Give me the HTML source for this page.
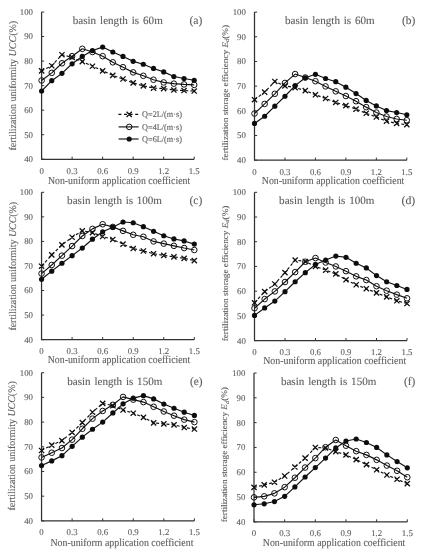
<!DOCTYPE html>
<html><head><meta charset="utf-8"><style>
html,body{margin:0;padding:0;background:#fff;}
svg{display:block;}
text{stroke:#5e5e5e;stroke-width:0.12px;}
</style></head><body>
<svg width="424" height="550" viewBox="0 0 424 550" font-family='"Liberation Serif", serif' stroke-linejoin='round' text-rendering='geometricPrecision'>
<defs><filter id="bl" x="0" y="0" width="1" height="1"><feGaussianBlur stdDeviation="0.3"/></filter></defs>
<rect width="424" height="550" fill="#fff"/>
<g filter="url(#bl)"><rect width="424" height="550" fill="#fff"/>
<path d="M41.6 12V159.25H194.2" fill="none" stroke="#333333" stroke-width="1.25"/>
<path d="M41.6 159.25h2.6M41.6 134.71h2.6M41.6 110.17h2.6M41.6 85.62h2.6M41.6 61.08h2.6M41.6 36.54h2.6M41.6 12h2.6M41.6 159.25v-2.6M72.12 159.25v-2.6M102.64 159.25v-2.6M133.16 159.25v-2.6M163.68 159.25v-2.6M194.2 159.25v-2.6" stroke="#333333" stroke-width="1"/>
<g font-size="8.8" fill="#5e5e5e"><text x="33" y="162.15" text-anchor="end">40</text><text x="33" y="137.61" text-anchor="end">50</text><text x="33" y="113.07" text-anchor="end">60</text><text x="33" y="88.53" text-anchor="end">70</text><text x="33" y="63.98" text-anchor="end">80</text><text x="33" y="39.44" text-anchor="end">90</text><text x="33" y="14.9" text-anchor="end">100</text><text x="41.6" y="173.75" text-anchor="middle">0</text><text x="72.12" y="173.75" text-anchor="middle">0.3</text><text x="102.64" y="173.75" text-anchor="middle">0.6</text><text x="133.16" y="173.75" text-anchor="middle">0.9</text><text x="163.68" y="173.75" text-anchor="middle">1.2</text><text x="194.2" y="173.75" text-anchor="middle">1.5</text></g>
<text x="72.7" y="24" font-size="11.1" fill="#5e5e5e" word-spacing="1.17">basin length is 60m</text>
<text x="189.4" y="24" font-size="11.5" fill="#5e5e5e" textLength="12.9" lengthAdjust="spacingAndGlyphs">(a)</text>
<text x="47.9" y="183.9" font-size="10.8" fill="#5e5e5e" textLength="142.3" lengthAdjust="spacingAndGlyphs">Non-uniform application coefficient</text>
<text transform="translate(15.8,150.6) rotate(-90)" x="0" y="0" font-size="10.2" fill="#5e5e5e" textLength="129.7" lengthAdjust="spacingAndGlyphs">fertilization uniformity <tspan font-style="italic">UCC</tspan>(%)</text>
<path d="M41.6 70.9L51.77 65.75L61.95 54.7L72.12 57.4L82.29 61.57L92.47 66.24L102.64 70.9L112.81 75.32L122.99 79L133.16 82.93L143.33 85.87L153.51 88.08L163.68 88.57L173.85 90.04L184.03 90.53L194.2 91.02" fill="none" stroke="#111" stroke-width="1.15" stroke-dasharray="3 2.2"/>
<path d="M41.6 80.47L51.77 72.86L61.95 63.29L72.12 56.17L82.29 48.81L92.47 52L102.64 56.17L112.81 62.31L122.99 67.22L133.16 72.37L143.33 75.81L153.51 79.73L163.68 82.43L173.85 83.66L184.03 84.4L194.2 84.89" fill="none" stroke="#111" stroke-width="1.15"/>
<path d="M41.6 91.02L51.77 80.72L61.95 73.35L72.12 63.78L82.29 56.42L92.47 50.53L102.64 47.09L112.81 52L122.99 56.42L133.16 61.33L143.33 64.27L153.51 68.45L163.68 71.88L173.85 76.54L184.03 78.51L194.2 80.23" fill="none" stroke="#111" stroke-width="1.15"/>
<g stroke="#111" stroke-width="1.3" fill="none"><path d="M39 68.3L44.2 73.5M39 73.5L44.2 68.3M41.6 69.6V72.2" /><path d="M49.17 63.15L54.37 68.35M49.17 68.35L54.37 63.15M51.77 64.45V67.05" /><path d="M59.35 52.1L64.55 57.3M59.35 57.3L64.55 52.1M61.95 53.4V56" /><path d="M69.52 54.8L74.72 60M69.52 60L74.72 54.8M72.12 56.1V58.7" /><path d="M79.69 58.97L84.89 64.17M79.69 64.17L84.89 58.97M82.29 60.27V62.87" /><path d="M89.87 63.64L95.07 68.84M89.87 68.84L95.07 63.64M92.47 64.94V67.54" /><path d="M100.04 68.3L105.24 73.5M100.04 73.5L105.24 68.3M102.64 69.6V72.2" /><path d="M110.21 72.72L115.41 77.92M110.21 77.92L115.41 72.72M112.81 74.02V76.62" /><path d="M120.39 76.4L125.59 81.6M120.39 81.6L125.59 76.4M122.99 77.7V80.3" /><path d="M130.56 80.33L135.76 85.53M130.56 85.53L135.76 80.33M133.16 81.63V84.23" /><path d="M140.73 83.27L145.93 88.47M140.73 88.47L145.93 83.27M143.33 84.57V87.17" /><path d="M150.91 85.48L156.11 90.68M150.91 90.68L156.11 85.48M153.51 86.78V89.38" /><path d="M161.08 85.97L166.28 91.17M161.08 91.17L166.28 85.97M163.68 87.27V89.87" /><path d="M171.25 87.44L176.45 92.64M171.25 92.64L176.45 87.44M173.85 88.74V91.34" /><path d="M181.43 87.93L186.63 93.13M181.43 93.13L186.63 87.93M184.03 89.23V91.83" /><path d="M191.6 88.42L196.8 93.62M191.6 93.62L196.8 88.42M194.2 89.72V92.32" /></g>
<g stroke="#111" stroke-width="1" fill="none"><circle cx="41.6" cy="80.47" r="2.8"/><circle cx="51.77" cy="72.86" r="2.8"/><circle cx="61.95" cy="63.29" r="2.8"/><circle cx="72.12" cy="56.17" r="2.8"/><circle cx="82.29" cy="48.81" r="2.8"/><circle cx="92.47" cy="52" r="2.8"/><circle cx="102.64" cy="56.17" r="2.8"/><circle cx="112.81" cy="62.31" r="2.8"/><circle cx="122.99" cy="67.22" r="2.8"/><circle cx="133.16" cy="72.37" r="2.8"/><circle cx="143.33" cy="75.81" r="2.8"/><circle cx="153.51" cy="79.73" r="2.8"/><circle cx="163.68" cy="82.43" r="2.8"/><circle cx="173.85" cy="83.66" r="2.8"/><circle cx="184.03" cy="84.4" r="2.8"/><circle cx="194.2" cy="84.89" r="2.8"/></g>
<g fill="#111"><circle cx="41.6" cy="91.02" r="2.6"/><circle cx="51.77" cy="80.72" r="2.6"/><circle cx="61.95" cy="73.35" r="2.6"/><circle cx="72.12" cy="63.78" r="2.6"/><circle cx="82.29" cy="56.42" r="2.6"/><circle cx="92.47" cy="50.53" r="2.6"/><circle cx="102.64" cy="47.09" r="2.6"/><circle cx="112.81" cy="52" r="2.6"/><circle cx="122.99" cy="56.42" r="2.6"/><circle cx="133.16" cy="61.33" r="2.6"/><circle cx="143.33" cy="64.27" r="2.6"/><circle cx="153.51" cy="68.45" r="2.6"/><circle cx="163.68" cy="71.88" r="2.6"/><circle cx="173.85" cy="76.54" r="2.6"/><circle cx="184.03" cy="78.51" r="2.6"/><circle cx="194.2" cy="80.23" r="2.6"/></g>
<path d="M254.5 12.1V160.2H406.8" fill="none" stroke="#333333" stroke-width="1.25"/>
<path d="M254.5 160.2h2.6M254.5 135.52h2.6M254.5 110.83h2.6M254.5 86.15h2.6M254.5 61.47h2.6M254.5 36.78h2.6M254.5 12.1h2.6M254.5 160.2v-2.6M284.96 160.2v-2.6M315.42 160.2v-2.6M345.88 160.2v-2.6M376.34 160.2v-2.6M406.8 160.2v-2.6" stroke="#333333" stroke-width="1"/>
<g font-size="8.8" fill="#5e5e5e"><text x="245.9" y="163.1" text-anchor="end">40</text><text x="245.9" y="138.42" text-anchor="end">50</text><text x="245.9" y="113.73" text-anchor="end">60</text><text x="245.9" y="89.05" text-anchor="end">70</text><text x="245.9" y="64.37" text-anchor="end">80</text><text x="245.9" y="39.68" text-anchor="end">90</text><text x="245.9" y="15" text-anchor="end">100</text><text x="254.5" y="174.7" text-anchor="middle">0</text><text x="284.96" y="174.7" text-anchor="middle">0.3</text><text x="315.42" y="174.7" text-anchor="middle">0.6</text><text x="345.88" y="174.7" text-anchor="middle">0.9</text><text x="376.34" y="174.7" text-anchor="middle">1.2</text><text x="406.8" y="174.7" text-anchor="middle">1.5</text></g>
<text x="285" y="23.6" font-size="11.1" fill="#5e5e5e" word-spacing="1.04">basin length is 60m</text>
<text x="402" y="23.6" font-size="11.5" fill="#5e5e5e" textLength="13.4" lengthAdjust="spacingAndGlyphs">(b)</text>
<text x="261.8" y="183.9" font-size="10.8" fill="#5e5e5e" textLength="142.5" lengthAdjust="spacingAndGlyphs">Non-uniform application coefficient</text>
<text transform="translate(227.8,160.5) rotate(-90)" x="0" y="0" font-size="8.5" fill="#5e5e5e" textLength="135.6" lengthAdjust="spacingAndGlyphs">fertilization storage efficiency <tspan font-style="italic">E</tspan><tspan font-style="italic" font-size="6" dy="1.4">d</tspan><tspan dy="-1.4">(%)</tspan></text>
<path d="M254.5 99.73L264.65 92.07L274.81 81.46L284.96 85.9L295.11 87.63L305.27 90.59L315.42 94.79L325.57 98.49L335.73 102.44L345.88 105.65L356.03 109.11L366.19 113.3L376.34 117L386.49 121.2L396.65 123.42L406.8 124.66" fill="none" stroke="#111" stroke-width="1.15" stroke-dasharray="3 2.2"/>
<path d="M254.5 113.55L264.65 103.92L274.81 93.8L284.96 82.94L295.11 74.06L305.27 77.51L315.42 81.21L325.57 86.4L335.73 91.33L345.88 96.02L356.03 101.21L366.19 107.13L376.34 112.56L386.49 116.51L396.65 118.98L406.8 120.21" fill="none" stroke="#111" stroke-width="1.15"/>
<path d="M254.5 123.42L264.65 116.26L274.81 106.14L284.96 96.27L295.11 85.66L305.27 77.76L315.42 74.3L325.57 78.5L335.73 81.71L345.88 87.14L356.03 93.55L366.19 100.47L376.34 105.9L386.49 110.59L396.65 112.56L406.8 114.78" fill="none" stroke="#111" stroke-width="1.15"/>
<g stroke="#111" stroke-width="1.3" fill="none"><path d="M251.9 97.13L257.1 102.33M251.9 102.33L257.1 97.13M254.5 98.43V101.03" /><path d="M262.05 89.47L267.25 94.67M262.05 94.67L267.25 89.47M264.65 90.77V93.37" /><path d="M272.21 78.86L277.41 84.06M272.21 84.06L277.41 78.86M274.81 80.16V82.76" /><path d="M282.36 83.3L287.56 88.5M282.36 88.5L287.56 83.3M284.96 84.6V87.2" /><path d="M292.51 85.03L297.71 90.23M292.51 90.23L297.71 85.03M295.11 86.33V88.93" /><path d="M302.67 87.99L307.87 93.19M302.67 93.19L307.87 87.99M305.27 89.29V91.89" /><path d="M312.82 92.19L318.02 97.39M312.82 97.39L318.02 92.19M315.42 93.49V96.09" /><path d="M322.97 95.89L328.17 101.09M322.97 101.09L328.17 95.89M325.57 97.19V99.79" /><path d="M333.13 99.84L338.33 105.04M333.13 105.04L338.33 99.84M335.73 101.14V103.74" /><path d="M343.28 103.05L348.48 108.25M343.28 108.25L348.48 103.05M345.88 104.35V106.95" /><path d="M353.43 106.51L358.63 111.71M353.43 111.71L358.63 106.51M356.03 107.81V110.41" /><path d="M363.59 110.7L368.79 115.9M363.59 115.9L368.79 110.7M366.19 112V114.6" /><path d="M373.74 114.4L378.94 119.6M373.74 119.6L378.94 114.4M376.34 115.7V118.3" /><path d="M383.89 118.6L389.09 123.8M383.89 123.8L389.09 118.6M386.49 119.9V122.5" /><path d="M394.05 120.82L399.25 126.02M394.05 126.02L399.25 120.82M396.65 122.12V124.72" /><path d="M404.2 122.06L409.4 127.26M404.2 127.26L409.4 122.06M406.8 123.36V125.96" /></g>
<g stroke="#111" stroke-width="1" fill="none"><circle cx="254.5" cy="113.55" r="2.8"/><circle cx="264.65" cy="103.92" r="2.8"/><circle cx="274.81" cy="93.8" r="2.8"/><circle cx="284.96" cy="82.94" r="2.8"/><circle cx="295.11" cy="74.06" r="2.8"/><circle cx="305.27" cy="77.51" r="2.8"/><circle cx="315.42" cy="81.21" r="2.8"/><circle cx="325.57" cy="86.4" r="2.8"/><circle cx="335.73" cy="91.33" r="2.8"/><circle cx="345.88" cy="96.02" r="2.8"/><circle cx="356.03" cy="101.21" r="2.8"/><circle cx="366.19" cy="107.13" r="2.8"/><circle cx="376.34" cy="112.56" r="2.8"/><circle cx="386.49" cy="116.51" r="2.8"/><circle cx="396.65" cy="118.98" r="2.8"/><circle cx="406.8" cy="120.21" r="2.8"/></g>
<g fill="#111"><circle cx="254.5" cy="123.42" r="2.6"/><circle cx="264.65" cy="116.26" r="2.6"/><circle cx="274.81" cy="106.14" r="2.6"/><circle cx="284.96" cy="96.27" r="2.6"/><circle cx="295.11" cy="85.66" r="2.6"/><circle cx="305.27" cy="77.76" r="2.6"/><circle cx="315.42" cy="74.3" r="2.6"/><circle cx="325.57" cy="78.5" r="2.6"/><circle cx="335.73" cy="81.71" r="2.6"/><circle cx="345.88" cy="87.14" r="2.6"/><circle cx="356.03" cy="93.55" r="2.6"/><circle cx="366.19" cy="100.47" r="2.6"/><circle cx="376.34" cy="105.9" r="2.6"/><circle cx="386.49" cy="110.59" r="2.6"/><circle cx="396.65" cy="112.56" r="2.6"/><circle cx="406.8" cy="114.78" r="2.6"/></g>
<path d="M41.55 192.3V339.65H194.3" fill="none" stroke="#333333" stroke-width="1.25"/>
<path d="M41.55 339.65h2.6M41.55 315.09h2.6M41.55 290.53h2.6M41.55 265.98h2.6M41.55 241.42h2.6M41.55 216.86h2.6M41.55 192.3h2.6M41.55 339.65v-2.6M72.1 339.65v-2.6M102.65 339.65v-2.6M133.2 339.65v-2.6M163.75 339.65v-2.6M194.3 339.65v-2.6" stroke="#333333" stroke-width="1"/>
<g font-size="8.8" fill="#5e5e5e"><text x="32.95" y="342.55" text-anchor="end">40</text><text x="32.95" y="317.99" text-anchor="end">50</text><text x="32.95" y="293.43" text-anchor="end">60</text><text x="32.95" y="268.88" text-anchor="end">70</text><text x="32.95" y="244.32" text-anchor="end">80</text><text x="32.95" y="219.76" text-anchor="end">90</text><text x="32.95" y="195.2" text-anchor="end">100</text><text x="41.55" y="354.15" text-anchor="middle">0</text><text x="72.1" y="354.15" text-anchor="middle">0.3</text><text x="102.65" y="354.15" text-anchor="middle">0.6</text><text x="133.2" y="354.15" text-anchor="middle">0.9</text><text x="163.75" y="354.15" text-anchor="middle">1.2</text><text x="194.3" y="354.15" text-anchor="middle">1.5</text></g>
<text x="67.1" y="203.9" font-size="11.1" fill="#5e5e5e" word-spacing="0.92">basin length is 100m</text>
<text x="189.4" y="203.9" font-size="11.5" fill="#5e5e5e" textLength="12.9" lengthAdjust="spacingAndGlyphs">(c)</text>
<text x="47.7" y="363.4" font-size="10.8" fill="#5e5e5e" textLength="142.6" lengthAdjust="spacingAndGlyphs">Non-uniform application coefficient</text>
<text transform="translate(15.7,330.6) rotate(-90)" x="0" y="0" font-size="10.2" fill="#5e5e5e" textLength="128.7" lengthAdjust="spacingAndGlyphs">fertilization uniformity <tspan font-style="italic">UCC</tspan>(%)</text>
<path d="M41.55 266.22L51.73 254.92L61.92 244.85L72.1 237.24L82.28 230.86L92.47 232.58L102.65 236.5L112.83 239.45L123.02 244.12L133.2 248.54L143.38 250.99L153.57 253.7L163.75 255.41L173.93 256.89L184.12 258.36L194.3 260.57" fill="none" stroke="#111" stroke-width="1.15" stroke-dasharray="3 2.2"/>
<path d="M41.55 273.59L51.73 264.99L61.92 255.66L72.1 246.08L82.28 236.01L92.47 228.89L102.65 224.23L112.83 226.93L123.02 230.86L133.2 234.79L143.38 236.75L153.57 241.42L163.75 243.63L173.93 245.84L184.12 248.05L194.3 250.01" fill="none" stroke="#111" stroke-width="1.15"/>
<path d="M41.55 279.24L51.73 271.13L61.92 263.27L72.1 255.66L82.28 248.05L92.47 239.21L102.65 231.84L112.83 227.17L123.02 222.02L133.2 222.75L143.38 226.68L153.57 231.35L163.75 235.77L173.93 238.96L184.12 240.93L194.3 244.12" fill="none" stroke="#111" stroke-width="1.15"/>
<g stroke="#111" stroke-width="1.3" fill="none"><path d="M38.95 263.62L44.15 268.82M38.95 268.82L44.15 263.62M41.55 264.92V267.52" /><path d="M49.13 252.32L54.33 257.52M49.13 257.52L54.33 252.32M51.73 253.62V256.22" /><path d="M59.32 242.25L64.52 247.45M59.32 247.45L64.52 242.25M61.92 243.55V246.15" /><path d="M69.5 234.64L74.7 239.84M69.5 239.84L74.7 234.64M72.1 235.94V238.54" /><path d="M79.68 228.26L84.88 233.46M79.68 233.46L84.88 228.26M82.28 229.56V232.16" /><path d="M89.87 229.98L95.07 235.18M89.87 235.18L95.07 229.98M92.47 231.28V233.88" /><path d="M100.05 233.91L105.25 239.1M100.05 239.1L105.25 233.91M102.65 235.2V237.81" /><path d="M110.23 236.85L115.43 242.05M110.23 242.05L115.43 236.85M112.83 238.15V240.75" /><path d="M120.42 241.52L125.62 246.72M120.42 246.72L125.62 241.52M123.02 242.82V245.42" /><path d="M130.6 245.94L135.8 251.14M130.6 251.14L135.8 245.94M133.2 247.24V249.84" /><path d="M140.78 248.39L145.98 253.59M140.78 253.59L145.98 248.39M143.38 249.69V252.29" /><path d="M150.97 251.1L156.17 256.3M150.97 256.3L156.17 251.1M153.57 252.4V255" /><path d="M161.15 252.81L166.35 258.01M161.15 258.01L166.35 252.81M163.75 254.11V256.71" /><path d="M171.33 254.29L176.53 259.49M171.33 259.49L176.53 254.29M173.93 255.59V258.19" /><path d="M181.52 255.76L186.72 260.96M181.52 260.96L186.72 255.76M184.12 257.06V259.66" /><path d="M191.7 257.97L196.9 263.17M191.7 263.17L196.9 257.97M194.3 259.27V261.87" /></g>
<g stroke="#111" stroke-width="1" fill="none"><circle cx="41.55" cy="273.59" r="2.8"/><circle cx="51.73" cy="264.99" r="2.8"/><circle cx="61.92" cy="255.66" r="2.8"/><circle cx="72.1" cy="246.08" r="2.8"/><circle cx="82.28" cy="236.01" r="2.8"/><circle cx="92.47" cy="228.89" r="2.8"/><circle cx="102.65" cy="224.23" r="2.8"/><circle cx="112.83" cy="226.93" r="2.8"/><circle cx="123.02" cy="230.86" r="2.8"/><circle cx="133.2" cy="234.79" r="2.8"/><circle cx="143.38" cy="236.75" r="2.8"/><circle cx="153.57" cy="241.42" r="2.8"/><circle cx="163.75" cy="243.63" r="2.8"/><circle cx="173.93" cy="245.84" r="2.8"/><circle cx="184.12" cy="248.05" r="2.8"/><circle cx="194.3" cy="250.01" r="2.8"/></g>
<g fill="#111"><circle cx="41.55" cy="279.24" r="2.6"/><circle cx="51.73" cy="271.13" r="2.6"/><circle cx="61.92" cy="263.27" r="2.6"/><circle cx="72.1" cy="255.66" r="2.6"/><circle cx="82.28" cy="248.05" r="2.6"/><circle cx="92.47" cy="239.21" r="2.6"/><circle cx="102.65" cy="231.84" r="2.6"/><circle cx="112.83" cy="227.17" r="2.6"/><circle cx="123.02" cy="222.02" r="2.6"/><circle cx="133.2" cy="222.75" r="2.6"/><circle cx="143.38" cy="226.68" r="2.6"/><circle cx="153.57" cy="231.35" r="2.6"/><circle cx="163.75" cy="235.77" r="2.6"/><circle cx="173.93" cy="238.96" r="2.6"/><circle cx="184.12" cy="240.93" r="2.6"/><circle cx="194.3" cy="244.12" r="2.6"/></g>
<path d="M254.5 192.3V340.6H407" fill="none" stroke="#333333" stroke-width="1.25"/>
<path d="M254.5 340.6h2.6M254.5 315.88h2.6M254.5 291.17h2.6M254.5 266.45h2.6M254.5 241.73h2.6M254.5 217.02h2.6M254.5 192.3h2.6M254.5 340.6v-2.6M285 340.6v-2.6M315.5 340.6v-2.6M346 340.6v-2.6M376.5 340.6v-2.6M407 340.6v-2.6" stroke="#333333" stroke-width="1"/>
<g font-size="8.8" fill="#5e5e5e"><text x="245.9" y="343.5" text-anchor="end">40</text><text x="245.9" y="318.78" text-anchor="end">50</text><text x="245.9" y="294.07" text-anchor="end">60</text><text x="245.9" y="269.35" text-anchor="end">70</text><text x="245.9" y="244.63" text-anchor="end">80</text><text x="245.9" y="219.92" text-anchor="end">90</text><text x="245.9" y="195.2" text-anchor="end">100</text><text x="254.5" y="355.1" text-anchor="middle">0</text><text x="285" y="355.1" text-anchor="middle">0.3</text><text x="315.5" y="355.1" text-anchor="middle">0.6</text><text x="346" y="355.1" text-anchor="middle">0.9</text><text x="376.5" y="355.1" text-anchor="middle">1.2</text><text x="407" y="355.1" text-anchor="middle">1.5</text></g>
<text x="279.1" y="203.8" font-size="11.1" fill="#5e5e5e" word-spacing="1.09">basin length is 100m</text>
<text x="401.5" y="203.8" font-size="11.5" fill="#5e5e5e" textLength="13.8" lengthAdjust="spacingAndGlyphs">(d)</text>
<text x="263.2" y="363.6" font-size="10.8" fill="#5e5e5e" textLength="143" lengthAdjust="spacingAndGlyphs">Non-uniform application coefficient</text>
<text transform="translate(227.6,341.3) rotate(-90)" x="0" y="0" font-size="8.5" fill="#5e5e5e" textLength="135.7" lengthAdjust="spacingAndGlyphs">fertilization storage efficiency <tspan font-style="italic">E</tspan><tspan font-style="italic" font-size="6" dy="1.4">d</tspan><tspan dy="-1.4">(%)</tspan></text>
<path d="M254.5 302.78L264.67 291.66L274.83 284L285 272.63L295.17 260.02L305.33 261.51L315.5 266.45L325.67 270.16L335.83 273.87L346 279.8L356.17 284.74L366.33 288.7L376.5 292.9L386.67 296.85L396.83 300.81L407 303.53" fill="none" stroke="#111" stroke-width="1.15" stroke-dasharray="3 2.2"/>
<path d="M254.5 308.22L264.67 299.08L274.83 291.41L285 282.02L295.17 272.13L305.33 261.75L315.5 258.05L325.67 262.5L335.83 266.45L346 271.15L356.17 276.34L366.33 280.04L376.5 286.22L386.67 290.67L396.83 294.63L407 298.33" fill="none" stroke="#111" stroke-width="1.15"/>
<path d="M254.5 315.39L264.67 307.97L274.83 301.05L285 291.66L295.17 281.77L305.33 272.63L315.5 264.47L325.67 260.02L335.83 256.07L346 257.3L356.17 263.24L366.33 267.93L376.5 275.6L386.67 281.77L396.83 285.48L407 289.44" fill="none" stroke="#111" stroke-width="1.15"/>
<g stroke="#111" stroke-width="1.3" fill="none"><path d="M251.9 300.18L257.1 305.38M251.9 305.38L257.1 300.18M254.5 301.48V304.08" /><path d="M262.07 289.06L267.27 294.26M262.07 294.26L267.27 289.06M264.67 290.36V292.96" /><path d="M272.23 281.4L277.43 286.6M272.23 286.6L277.43 281.4M274.83 282.7V285.3" /><path d="M282.4 270.03L287.6 275.23M282.4 275.23L287.6 270.03M285 271.33V273.93" /><path d="M292.57 257.42L297.77 262.62M292.57 262.62L297.77 257.42M295.17 258.72V261.32" /><path d="M302.73 258.91L307.93 264.11M302.73 264.11L307.93 258.91M305.33 260.21V262.81" /><path d="M312.9 263.85L318.1 269.05M312.9 269.05L318.1 263.85M315.5 265.15V267.75" /><path d="M323.07 267.56L328.27 272.76M323.07 272.76L328.27 267.56M325.67 268.86V271.46" /><path d="M333.23 271.26L338.43 276.47M333.23 276.47L338.43 271.26M335.83 272.56V275.17" /><path d="M343.4 277.2L348.6 282.4M343.4 282.4L348.6 277.2M346 278.5V281.1" /><path d="M353.57 282.14L358.77 287.34M353.57 287.34L358.77 282.14M356.17 283.44V286.04" /><path d="M363.73 286.1L368.93 291.3M363.73 291.3L368.93 286.1M366.33 287.4V290" /><path d="M373.9 290.3L379.1 295.5M373.9 295.5L379.1 290.3M376.5 291.6V294.2" /><path d="M384.07 294.25L389.27 299.45M384.07 299.45L389.27 294.25M386.67 295.55V298.15" /><path d="M394.23 298.21L399.43 303.41M394.23 303.41L399.43 298.21M396.83 299.51V302.11" /><path d="M404.4 300.93L409.6 306.13M404.4 306.13L409.6 300.93M407 302.23V304.83" /></g>
<g stroke="#111" stroke-width="1" fill="none"><circle cx="254.5" cy="308.22" r="2.8"/><circle cx="264.67" cy="299.08" r="2.8"/><circle cx="274.83" cy="291.41" r="2.8"/><circle cx="285" cy="282.02" r="2.8"/><circle cx="295.17" cy="272.13" r="2.8"/><circle cx="305.33" cy="261.75" r="2.8"/><circle cx="315.5" cy="258.05" r="2.8"/><circle cx="325.67" cy="262.5" r="2.8"/><circle cx="335.83" cy="266.45" r="2.8"/><circle cx="346" cy="271.15" r="2.8"/><circle cx="356.17" cy="276.34" r="2.8"/><circle cx="366.33" cy="280.04" r="2.8"/><circle cx="376.5" cy="286.22" r="2.8"/><circle cx="386.67" cy="290.67" r="2.8"/><circle cx="396.83" cy="294.63" r="2.8"/><circle cx="407" cy="298.33" r="2.8"/></g>
<g fill="#111"><circle cx="254.5" cy="315.39" r="2.6"/><circle cx="264.67" cy="307.97" r="2.6"/><circle cx="274.83" cy="301.05" r="2.6"/><circle cx="285" cy="291.66" r="2.6"/><circle cx="295.17" cy="281.77" r="2.6"/><circle cx="305.33" cy="272.63" r="2.6"/><circle cx="315.5" cy="264.47" r="2.6"/><circle cx="325.67" cy="260.02" r="2.6"/><circle cx="335.83" cy="256.07" r="2.6"/><circle cx="346" cy="257.3" r="2.6"/><circle cx="356.17" cy="263.24" r="2.6"/><circle cx="366.33" cy="267.93" r="2.6"/><circle cx="376.5" cy="275.6" r="2.6"/><circle cx="386.67" cy="281.77" r="2.6"/><circle cx="396.83" cy="285.48" r="2.6"/><circle cx="407" cy="289.44" r="2.6"/></g>
<path d="M41.55 372.7V520.9H194.4" fill="none" stroke="#333333" stroke-width="1.25"/>
<path d="M41.55 520.9h2.6M41.55 496.2h2.6M41.55 471.5h2.6M41.55 446.8h2.6M41.55 422.1h2.6M41.55 397.4h2.6M41.55 372.7h2.6M41.55 520.9v-2.6M72.12 520.9v-2.6M102.69 520.9v-2.6M133.26 520.9v-2.6M163.83 520.9v-2.6M194.4 520.9v-2.6" stroke="#333333" stroke-width="1"/>
<g font-size="8.8" fill="#5e5e5e"><text x="32.95" y="523.8" text-anchor="end">40</text><text x="32.95" y="499.1" text-anchor="end">50</text><text x="32.95" y="474.4" text-anchor="end">60</text><text x="32.95" y="449.7" text-anchor="end">70</text><text x="32.95" y="425" text-anchor="end">80</text><text x="32.95" y="400.3" text-anchor="end">90</text><text x="32.95" y="375.6" text-anchor="end">100</text><text x="41.55" y="535.4" text-anchor="middle">0</text><text x="72.12" y="535.4" text-anchor="middle">0.3</text><text x="102.69" y="535.4" text-anchor="middle">0.6</text><text x="133.26" y="535.4" text-anchor="middle">0.9</text><text x="163.83" y="535.4" text-anchor="middle">1.2</text><text x="194.4" y="535.4" text-anchor="middle">1.5</text></g>
<text x="67.2" y="384.5" font-size="11.1" fill="#5e5e5e" word-spacing="1.02">basin length is 150m</text>
<text x="190" y="384.5" font-size="11.5" fill="#5e5e5e" textLength="12.6" lengthAdjust="spacingAndGlyphs">(e)</text>
<text x="50.4" y="545.7" font-size="10.8" fill="#5e5e5e" textLength="143" lengthAdjust="spacingAndGlyphs">Non-uniform application coefficient</text>
<text transform="translate(15.1,510.6) rotate(-90)" x="0" y="0" font-size="10.2" fill="#5e5e5e" textLength="129.4" lengthAdjust="spacingAndGlyphs">fertilization uniformity <tspan font-style="italic">UCC</tspan>(%)</text>
<path d="M41.55 450.5L51.74 445.07L61.93 440.62L72.12 432.47L82.31 422.59L92.5 412.22L102.69 403.33L112.88 405.8L123.07 410L133.26 413.21L143.45 417.41L153.64 422.84L163.83 423.83L174.02 424.82L184.21 427.53L194.4 429.02" fill="none" stroke="#111" stroke-width="1.15" stroke-dasharray="3 2.2"/>
<path d="M41.55 457.42L51.74 452.73L61.93 448.03L72.12 439.64L82.31 428.77L92.5 418.64L102.69 410.99L112.88 404.81L123.07 396.91L133.26 399.62L143.45 402.09L153.64 406.79L163.83 411.48L174.02 415.68L184.21 419.63L194.4 422.1" fill="none" stroke="#111" stroke-width="1.15"/>
<path d="M41.55 465.57L51.74 460.88L61.93 455.69L72.12 446.31L82.31 437.17L92.5 429.26L102.69 422.1L112.88 412.96L123.07 403.82L133.26 398.14L143.45 395.67L153.64 398.88L163.83 404.07L174.02 408.27L184.21 412.22L194.4 415.43" fill="none" stroke="#111" stroke-width="1.15"/>
<g stroke="#111" stroke-width="1.3" fill="none"><path d="M38.95 447.9L44.15 453.11M38.95 453.11L44.15 447.9M41.55 449.2V451.81" /><path d="M49.14 442.47L54.34 447.67M49.14 447.67L54.34 442.47M51.74 443.77V446.37" /><path d="M59.33 438.02L64.53 443.23M59.33 443.23L64.53 438.02M61.93 439.32V441.93" /><path d="M69.52 429.87L74.72 435.07M69.52 435.07L74.72 429.87M72.12 431.17V433.77" /><path d="M79.71 419.99L84.91 425.19M79.71 425.19L84.91 419.99M82.31 421.29V423.89" /><path d="M89.9 409.62L95.1 414.82M89.9 414.82L95.1 409.62M92.5 410.92V413.52" /><path d="M100.09 400.73L105.29 405.93M100.09 405.93L105.29 400.73M102.69 402.03V404.63" /><path d="M110.28 403.2L115.48 408.4M110.28 408.4L115.48 403.2M112.88 404.5V407.1" /><path d="M120.47 407.4L125.67 412.6M120.47 412.6L125.67 407.4M123.07 408.7V411.3" /><path d="M130.66 410.61L135.86 415.81M130.66 415.81L135.86 410.61M133.26 411.91V414.51" /><path d="M140.85 414.81L146.05 420.01M140.85 420.01L146.05 414.81M143.45 416.11V418.71" /><path d="M151.04 420.24L156.24 425.44M151.04 425.44L156.24 420.24M153.64 421.54V424.14" /><path d="M161.23 421.23L166.43 426.43M161.23 426.43L166.43 421.23M163.83 422.53V425.13" /><path d="M171.42 422.22L176.62 427.42M171.42 427.42L176.62 422.22M174.02 423.52V426.12" /><path d="M181.61 424.93L186.81 430.13M181.61 430.13L186.81 424.93M184.21 426.23V428.83" /><path d="M191.8 426.42L197 431.62M191.8 431.62L197 426.42M194.4 427.72V430.32" /></g>
<g stroke="#111" stroke-width="1" fill="none"><circle cx="41.55" cy="457.42" r="2.8"/><circle cx="51.74" cy="452.73" r="2.8"/><circle cx="61.93" cy="448.03" r="2.8"/><circle cx="72.12" cy="439.64" r="2.8"/><circle cx="82.31" cy="428.77" r="2.8"/><circle cx="92.5" cy="418.64" r="2.8"/><circle cx="102.69" cy="410.99" r="2.8"/><circle cx="112.88" cy="404.81" r="2.8"/><circle cx="123.07" cy="396.91" r="2.8"/><circle cx="133.26" cy="399.62" r="2.8"/><circle cx="143.45" cy="402.09" r="2.8"/><circle cx="153.64" cy="406.79" r="2.8"/><circle cx="163.83" cy="411.48" r="2.8"/><circle cx="174.02" cy="415.68" r="2.8"/><circle cx="184.21" cy="419.63" r="2.8"/><circle cx="194.4" cy="422.1" r="2.8"/></g>
<g fill="#111"><circle cx="41.55" cy="465.57" r="2.6"/><circle cx="51.74" cy="460.88" r="2.6"/><circle cx="61.93" cy="455.69" r="2.6"/><circle cx="72.12" cy="446.31" r="2.6"/><circle cx="82.31" cy="437.17" r="2.6"/><circle cx="92.5" cy="429.26" r="2.6"/><circle cx="102.69" cy="422.1" r="2.6"/><circle cx="112.88" cy="412.96" r="2.6"/><circle cx="123.07" cy="403.82" r="2.6"/><circle cx="133.26" cy="398.14" r="2.6"/><circle cx="143.45" cy="395.67" r="2.6"/><circle cx="153.64" cy="398.88" r="2.6"/><circle cx="163.83" cy="404.07" r="2.6"/><circle cx="174.02" cy="408.27" r="2.6"/><circle cx="184.21" cy="412.22" r="2.6"/><circle cx="194.4" cy="415.43" r="2.6"/></g>
<path d="M254 373V521.9H407.3" fill="none" stroke="#333333" stroke-width="1.25"/>
<path d="M254 521.9h2.6M254 497.08h2.6M254 472.27h2.6M254 447.45h2.6M254 422.63h2.6M254 397.82h2.6M254 373h2.6M254 521.9v-2.6M284.66 521.9v-2.6M315.32 521.9v-2.6M345.98 521.9v-2.6M376.64 521.9v-2.6M407.3 521.9v-2.6" stroke="#333333" stroke-width="1"/>
<g font-size="8.8" fill="#5e5e5e"><text x="245.4" y="524.8" text-anchor="end">40</text><text x="245.4" y="499.98" text-anchor="end">50</text><text x="245.4" y="475.17" text-anchor="end">60</text><text x="245.4" y="450.35" text-anchor="end">70</text><text x="245.4" y="425.53" text-anchor="end">80</text><text x="245.4" y="400.72" text-anchor="end">90</text><text x="245.4" y="375.9" text-anchor="end">100</text><text x="254" y="536.4" text-anchor="middle">0</text><text x="284.66" y="536.4" text-anchor="middle">0.3</text><text x="315.32" y="536.4" text-anchor="middle">0.6</text><text x="345.98" y="536.4" text-anchor="middle">0.9</text><text x="376.64" y="536.4" text-anchor="middle">1.2</text><text x="407.3" y="536.4" text-anchor="middle">1.5</text></g>
<text x="280.9" y="384.7" font-size="11.1" fill="#5e5e5e" word-spacing="1.12">basin length is 150m</text>
<text x="404" y="384.7" font-size="11.5" fill="#5e5e5e" textLength="11.3" lengthAdjust="spacingAndGlyphs">(f)</text>
<text x="262.8" y="545.9" font-size="10.8" fill="#5e5e5e" textLength="142.5" lengthAdjust="spacingAndGlyphs">Non-uniform application coefficient</text>
<text transform="translate(227.3,522.3) rotate(-90)" x="0" y="0" font-size="8.5" fill="#5e5e5e" textLength="135.2" lengthAdjust="spacingAndGlyphs">fertilization storage efficiency <tspan font-style="italic">E</tspan><tspan font-style="italic" font-size="6" dy="1.4">d</tspan><tspan dy="-1.4">(%)</tspan></text>
<path d="M254 487.4L264.22 484.92L274.44 482.19L284.66 475.99L294.88 467.06L305.1 458.12L315.32 447.45L325.54 447.95L335.76 451.67L345.98 454.89L356.2 459.61L366.42 464.57L376.64 469.78L386.86 475L397.08 479.22L407.3 483.68" fill="none" stroke="#111" stroke-width="1.15" stroke-dasharray="3 2.2"/>
<path d="M254 497.33L264.22 496.34L274.44 493.36L284.66 487.16L294.88 477.73L305.1 467.55L315.32 458.12L325.54 447.2L335.76 440L345.98 445.71L356.2 451.17L366.42 454.89L376.64 459.86L386.86 465.57L397.08 470.78L407.3 477.23" fill="none" stroke="#111" stroke-width="1.15"/>
<path d="M254 504.78L264.22 503.78L274.44 501.55L284.66 496.34L294.88 486.91L305.1 476.98L315.32 467.55L325.54 458.12L335.76 447.95L345.98 441L356.2 439.01L366.42 442.49L376.64 447.45L386.86 454.89L397.08 461.6L407.3 467.8" fill="none" stroke="#111" stroke-width="1.15"/>
<g stroke="#111" stroke-width="1.3" fill="none"><path d="M251.4 484.8L256.6 490M251.4 490L256.6 484.8M254 486.1V488.7" /><path d="M261.62 482.32L266.82 487.52M261.62 487.52L266.82 482.32M264.22 483.62V486.22" /><path d="M271.84 479.59L277.04 484.79M271.84 484.79L277.04 479.59M274.44 480.89V483.49" /><path d="M282.06 473.39L287.26 478.59M282.06 478.59L287.26 473.39M284.66 474.69V477.29" /><path d="M292.28 464.46L297.48 469.66M292.28 469.66L297.48 464.46M294.88 465.76V468.36" /><path d="M302.5 455.52L307.7 460.72M302.5 460.72L307.7 455.52M305.1 456.82V459.42" /><path d="M312.72 444.85L317.92 450.05M312.72 450.05L317.92 444.85M315.32 446.15V448.75" /><path d="M322.94 445.35L328.14 450.55M322.94 450.55L328.14 445.35M325.54 446.65V449.25" /><path d="M333.16 449.07L338.36 454.27M333.16 454.27L338.36 449.07M335.76 450.37V452.97" /><path d="M343.38 452.29L348.58 457.5M343.38 457.5L348.58 452.29M345.98 453.59V456.19" /><path d="M353.6 457.01L358.8 462.21M353.6 462.21L358.8 457.01M356.2 458.31V460.91" /><path d="M363.82 461.97L369.02 467.17M363.82 467.17L369.02 461.97M366.42 463.27V465.87" /><path d="M374.04 467.18L379.24 472.38M374.04 472.38L379.24 467.18M376.64 468.48V471.08" /><path d="M384.26 472.4L389.46 477.6M384.26 477.6L389.46 472.4M386.86 473.7V476.3" /><path d="M394.48 476.62L399.68 481.82M394.48 481.82L399.68 476.62M397.08 477.92V480.52" /><path d="M404.7 481.08L409.9 486.28M404.7 486.28L409.9 481.08M407.3 482.38V484.98" /></g>
<g stroke="#111" stroke-width="1" fill="none"><circle cx="254" cy="497.33" r="2.8"/><circle cx="264.22" cy="496.34" r="2.8"/><circle cx="274.44" cy="493.36" r="2.8"/><circle cx="284.66" cy="487.16" r="2.8"/><circle cx="294.88" cy="477.73" r="2.8"/><circle cx="305.1" cy="467.55" r="2.8"/><circle cx="315.32" cy="458.12" r="2.8"/><circle cx="325.54" cy="447.2" r="2.8"/><circle cx="335.76" cy="440" r="2.8"/><circle cx="345.98" cy="445.71" r="2.8"/><circle cx="356.2" cy="451.17" r="2.8"/><circle cx="366.42" cy="454.89" r="2.8"/><circle cx="376.64" cy="459.86" r="2.8"/><circle cx="386.86" cy="465.57" r="2.8"/><circle cx="397.08" cy="470.78" r="2.8"/><circle cx="407.3" cy="477.23" r="2.8"/></g>
<g fill="#111"><circle cx="254" cy="504.78" r="2.6"/><circle cx="264.22" cy="503.78" r="2.6"/><circle cx="274.44" cy="501.55" r="2.6"/><circle cx="284.66" cy="496.34" r="2.6"/><circle cx="294.88" cy="486.91" r="2.6"/><circle cx="305.1" cy="476.98" r="2.6"/><circle cx="315.32" cy="467.55" r="2.6"/><circle cx="325.54" cy="458.12" r="2.6"/><circle cx="335.76" cy="447.95" r="2.6"/><circle cx="345.98" cy="441" r="2.6"/><circle cx="356.2" cy="439.01" r="2.6"/><circle cx="366.42" cy="442.49" r="2.6"/><circle cx="376.64" cy="447.45" r="2.6"/><circle cx="386.86" cy="454.89" r="2.6"/><circle cx="397.08" cy="461.6" r="2.6"/><circle cx="407.3" cy="467.8" r="2.6"/></g>
<path d="M118.4 114.4H138.4" stroke="#111" stroke-width="1.15" stroke-dasharray="3 2.6"/>
<g stroke="#111" stroke-width="1.3" fill="none"><path d="M126.6 111.8L131.8 117M126.6 117L131.8 111.8M129.2 113.1V115.7" /></g>
<text x="142.1" y="117" font-size="8.8" fill="#5e5e5e" textLength="39.8" lengthAdjust="spacingAndGlyphs">Q=2L/(m·s)</text>
<path d="M118.6 126.9H138.6" stroke="#111" stroke-width="1.15"/>
<circle cx="129.2" cy="126.9" r="2.8" fill="none" stroke="#111" stroke-width="1"/>
<text x="142.1" y="129.5" font-size="8.8" fill="#5e5e5e" textLength="39.8" lengthAdjust="spacingAndGlyphs">Q=4L/(m·s)</text>
<path d="M118.6 139.0H138.6" stroke="#111" stroke-width="1.15"/>
<circle cx="129.2" cy="139.0" r="2.6" fill="#111"/>
<text x="142.1" y="141.6" font-size="8.8" fill="#5e5e5e" textLength="39.8" lengthAdjust="spacingAndGlyphs">Q=6L/(m·s)</text>
</g>
</svg>
</body></html>
